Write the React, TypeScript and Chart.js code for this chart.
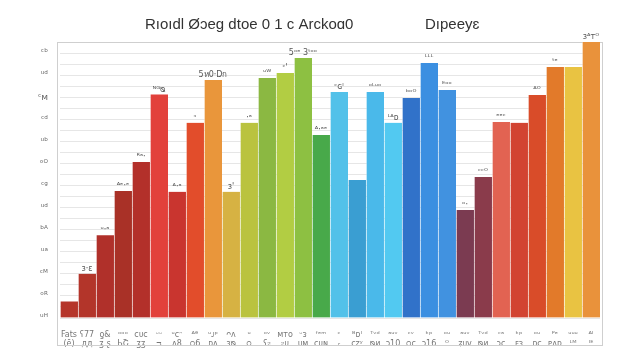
import React, { useEffect, useRef } from "react";
import { Chart, registerables } from "chart.js";

Chart.register(...registerables);

const categories: string[][] = [
  ["Fats", "(ē)"], ["ʕ77", "дд"], ["ƍ&", "ʒ.ʂ"], ["ᵒᵒᵒ", "ЬՇ"], ["ᴄᴜᴄ", "ʒʒ"],
  ["ᵕᵕ", "ᴝ"], ["ᵘᴄᵔ", "ᴧ8"], ["ᴬᶿ", "ᴑ6"], ["ᵘᴊᵖ", "ᴅᴧ"], ["ᴖᴧ", "ɜᴓ"],
  ["ᵘ", "ᴑ"], ["ᵒᵛ", "ʕᴤ"], ["ᴍᴛᴏ", "ᴤᴜ"], ["ᵕᴈ", "ᴜᴍ"], ["ᶠᵉᵐ", "ᴄᴜɴ"],
  ["ᶜ", "ᵣ"], ["ᴮᴅᴵ", "ᴄᴢʸ"], ["ᵀᵛᵈ", "ᴓᴎ"], ["ᵃᵘᵛ", "ᴐ10"], ["ᶜᵛ", "ᴑᴄ"],
  ["ᵏᵖ", "ᴐ16"], ["ᵒᵘ", "ᴼ"], ["ᵃᵘᵛ", "ʑᴜᴠ"], ["ᵀᵛᵈ", "ᴓᴎ"], ["ᶜᵃ", "ᴐᴄ"],
  ["ᵏᵖ", "ᴇᴈ"], ["ᵒᵘ", "ᴅᴄ"], ["ᴾᵉ", "ᴘᴧᴅ"], ["ᵘᵘᵘ", "ᴸᴹ"], ["ᴬᴵ", "ᴵᴱ"],
];

const values: number[] = [
  6, 16, 30, 46, 56.5, 81, 45.7, 70.7, 86.2, 45.7,
  70.7, 87, 88.8, 94.2, 66.3, 81.9, 50, 81.9, 70.7, 79.7,
  92.4, 82.6, 39.1, 51.1, 71, 70.7, 80.8, 90.9, 90.9, 100,
];

const barColors: string[] = [
  "#b5352a", "#b3352a", "#b0302a", "#a93127", "#b3302a",
  "#e2413b", "#c9352f", "#e24d2b", "#e9963b", "#d6b243",
  "#bac33f", "#8bb842", "#b2cd43", "#8dc042", "#48a94a",
  "#52c1e9", "#3a9ed2", "#4ab9ea", "#52c9f1", "#3172c9",
  "#3b8fe1", "#4192e0", "#7b3b51", "#8a3b4b", "#e26352",
  "#d24331", "#d94c29", "#e27a2a", "#e9c342", "#e9923b",
];

const topLabels: string[] = [
  "", "ɜ·ɛ", "ᵘ·ᵃ", "ᴬᵉ·ᵉ", "ᴿᵃ·", "ᴺᴳᴓ", "ᴬ·ᵃ", "ᵓ", "5ห0·Dก", "ɜ'",
  "·ᵃ", "ᵘᵂ", "ᶜ'", "5ᵒᵉ 3ᵗᵒᵒ", "ᴬ·ᵃᵉ", "ᶜɢᴵ", "", "ᵒᴸᵘᵒ", "ᴸᴬᴅ", "ᵇᵒᴼ",
  "ᴸᴸᴸ", "ᴱᵒᵒ", "ᵒ·", "ᶜᶜᴼ", "ᵉᵉᶜ", "", "ᴬᴼ", "ᵗᵉ", "", "ɜᴬᴛᴼ",
];

const yTickLabels: string[] = [
  "ᶜᵇ", "ᵘᵈ", "ᶜᴍ", "ᶜᵈ", "ᵘᵇ", "ᵒᴼ", "ᶜᵍ", "ᵘᵈ", "ᵇᴬ", "ᵘᵃ", "ᶜᴹ", "ᵒᴿ", "ᵘᴴ",
];

const titleLeft = "Rıoıdl Øɔeg dtoe 0 1 c Arckoɑ0";
const titleRight = "Dıpeeyɛ";

const decorPlugin = {
  id: "decor",
  beforeDatasetsDraw(chart: any) {
    const { ctx, chartArea } = chart;
    ctx.save();
    ctx.strokeStyle = "#cfcfcf";
    ctx.lineWidth = 1;
    ctx.strokeRect(chartArea.left - 2.5, chartArea.top + 0.5, chartArea.right - chartArea.left + 5, 303);
    ctx.restore();
  },
  afterDatasetsDraw(chart: any) {
    const { ctx } = chart;
    const meta = chart.getDatasetMeta(0);
    ctx.save();
    ctx.font = "8px 'DejaVu Sans'";
    ctx.fillStyle = "#555";
    ctx.textAlign = "center";
    ctx.textBaseline = "bottom";
    meta.data.forEach((bar: any, i: number) => {
      const t = topLabels[i];
      if (t) ctx.fillText(t, bar.x, bar.y - 1);
    });
    ctx.restore();
  },
  afterDraw(chart: any) {
    const { ctx } = chart;
    ctx.save();
    ctx.fillStyle = "#333";
    ctx.font = "15px 'Liberation Sans'";
    ctx.textBaseline = "middle";
    ctx.textAlign = "left";
    ctx.fillText(titleLeft, 145, 25);
    ctx.fillText(titleRight, 425, 25);
    ctx.restore();
  },
};

export default function App() {
  const ref = useRef<HTMLCanvasElement | null>(null);
  useEffect(() => {
    if (!ref.current) return;
    const chart = new Chart(ref.current, {
      type: "bar",
      data: {
        labels: categories,
        datasets: [
          {
            data: values,
            backgroundColor: barColors,
            borderColor: "rgba(255,255,255,0.35)",
            borderWidth: { left: 1, right: 0, top: 0, bottom: 0 } as any,
            categoryPercentage: 1,
            barPercentage: 1,
          },
        ],
      },
      options: {
        responsive: false,
        animation: false,
        layout: { padding: { left: 8, right: 40, top: 42, bottom: 12 } },
        plugins: { legend: { display: false }, tooltip: { enabled: false }, title: { display: false } },
        scales: {
          x: {
            grid: { display: false },
            border: { display: false },
            ticks: {
              autoSkip: false,
              maxRotation: 0,
              minRotation: 0,
              color: "#777",
              font: { size: 8, family: "DejaVu Sans" },
              padding: 4,
            },
            afterFit: (s: any) => { s.height = 30; },
          },
          y: {
            min: 0,
            max: 100,
            grid: { color: "#e6e6e6", lineWidth: 1, drawTicks: false },
            border: { display: false },
            ticks: {
              stepSize: 4,
              autoSkip: false,
              color: "#666",
              font: { size: 9, family: "DejaVu Sans" },
              padding: 12,
              callback: (_v: any, i: number) => {
                const k = 24 - i;
                return k % 2 === 0 ? yTickLabels[k / 2] ?? "" : "";
              },
            },
            afterFit: (s: any) => { s.width = 52; },
          },
        },
      },
      plugins: [decorPlugin],
    });
    return () => chart.destroy();
  }, []);
  return (
    <div style={{ position: "fixed", left: 0, top: 0, width: 640, height: 360, background: "#fff" }}>
      <canvas ref={ref} width={640} height={360} style={{ display: "block" }} />
    </div>
  );
}
